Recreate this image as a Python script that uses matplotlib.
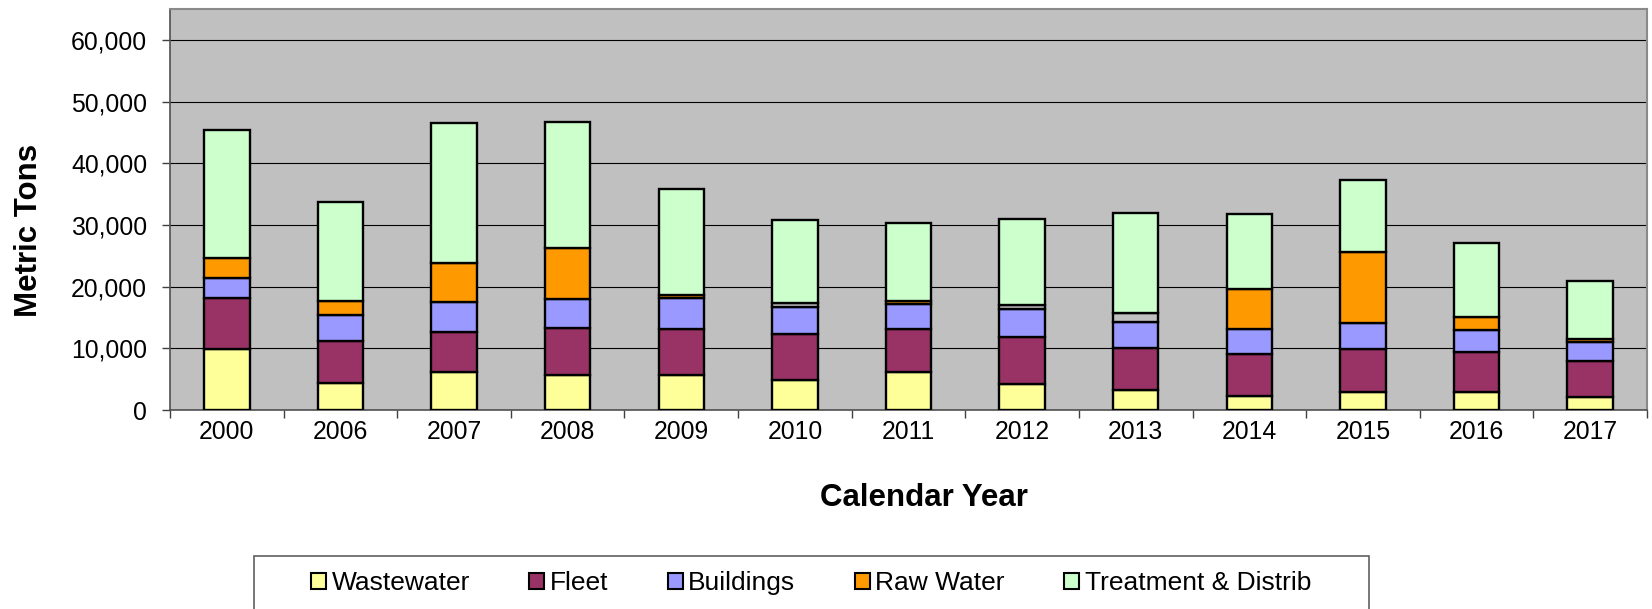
import numpy as np
import matplotlib
matplotlib.use('Agg')
import matplotlib.pyplot as plt
from matplotlib.patches import Patch, Rectangle
from matplotlib.ticker import FuncFormatter, FixedLocator

plt.rcParams['font.family'] = ['Liberation Sans', 'DejaVu Sans']

# values (metric tons)
years = ['2000', '2006', '2007', '2008', '2009', '2010', '2011',
         '2012', '2013', '2014', '2015', '2016', '2017']
wastewater = [9820, 4390, 6180, 5750, 5640, 4940, 6130, 4230, 3320, 2230, 2880, 2880, 2110]
fleet = [8290, 6730, 6400, 7580, 7530, 7370, 6940, 7640, 6760, 6780, 6950, 6450, 5910]
buildings = [3260, 4330, 4880, 4620, 4940, 4440, 4120, 4450, 4130, 4110, 4220, 3580, 2980]
raw_water = [3350, 2180, 6440, 8390, 590, 550, 530, 700, 1470, 6500, 11590, 2160, 450]
treatment = [20760, 16190, 22720, 20330, 17140, 13550, 12590, 14040, 16270, 12150, 11680, 12000, 9470]

names = ['Wastewater', 'Fleet', 'Buildings', 'Raw Water', 'Treatment & Distrib']
cols = ['#FFFF99', '#993366', '#9999FF', '#FF9900', '#CCFFCC']

W, H = 1652, 609
fig = plt.figure(figsize=(W/100, H/100), dpi=100)
ax = fig.add_axes([170/W, 1-410/H, (1647-170)/W, (410-9.3)/H])
ax.set_facecolor('#C0C0C0')

x = np.arange(len(years))
series = [wastewater, fleet, buildings, raw_water, treatment]
bottom = np.zeros(len(years))
for i, s in enumerate(series):
    fc = [cols[i]] * len(years)
    if i == 3:
        # these years show an unfilled band in the source
        for j in (5, 7, 8):
            fc[j] = '#C0C0C0'
    ax.bar(x, s, 0.4, bottom=bottom, color=fc, edgecolor='black', linewidth=1.7, zorder=3)
    bottom += np.array(s)

ax.set_xlim(-0.5, len(years)-0.5)
ax.set_ylim(0, 65000)
ax.set_yticks(np.arange(0, 60001, 10000))
ax.yaxis.set_major_formatter(FuncFormatter(lambda v, p: f'{v:,.0f}'))
ax.yaxis.grid(True, color='black', linewidth=0.8, zorder=1)
ax.set_axisbelow(True)

ax.xaxis.set_major_locator(FixedLocator(np.arange(-0.5, len(years), 1)))
ax.xaxis.set_minor_locator(FixedLocator(x))
ax.set_xticklabels([], minor=False)
ax.set_xticklabels(years, minor=True)
ax.tick_params(axis='x', which='minor', length=0, pad=7, labelsize=17.8)
ax.tick_params(axis='x', which='major', length=5.5, width=1, color='#404040')
ax.tick_params(axis='y', length=5.5, width=1, color='#404040', pad=11, labelsize=17.8)

for side in ['top', 'right']:
    ax.spines[side].set_color('#8A8A8A')
    ax.spines[side].set_linewidth(1.5)
for side in ['left', 'bottom']:
    ax.spines[side].set_color('#505050')
    ax.spines[side].set_linewidth(1.2)

fig.text(923.8/W, 1-505.7/H, 'Calendar Year', ha='center', va='baseline',
         fontsize=22.5, fontweight='bold')
fig.text(29/W, 1-230/H, 'Metric Tons', ha='center', va='center', rotation=90,
         fontsize=22.5, fontweight='bold')

# legend
handles = [Patch(facecolor=c, edgecolor='black', linewidth=1.5) for c in cols]
fig.legend(handles, names, ncol=5, frameon=False, loc='center left',
           bbox_to_anchor=(311/W, 1-583/H), fontsize=19,
           handlelength=0.56, handleheight=0.56, handletextpad=0.22,
           columnspacing=2.25, borderpad=0, borderaxespad=0)
fig.patches.append(Rectangle((254/W, -0.05), (1369-254)/W, 0.05+(609-556.3)/H,
                             transform=fig.transFigure, fill=False,
                             edgecolor='#606060', linewidth=1.2))

fig.savefig('out.png', dpi=100)
